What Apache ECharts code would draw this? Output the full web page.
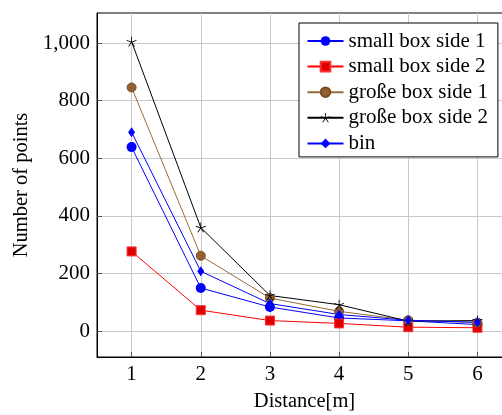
<!DOCTYPE html>
<html><head><meta charset="utf-8">
<script src="https://cdn.jsdelivr.net/npm/echarts@6/dist/echarts.min.js"></script>
<style>html,body{margin:0;padding:0;background:#fff}#c{width:502px;height:415px}</style>
</head><body><div id="c"></div>
<script>
var distances = [1, 2, 3, 4, 5, 6];
var smallBox1 = [639, 150, 84, 46, 36, 23];
var smallBox2 = [277, 73, 37, 27, 14, 12];
var grosseBox1 = [846, 262, 115, 69, 38, 30];
var grosseBox2 = [1005, 360, 124, 92, 35, 37];
var bin = [691, 208, 96, 58, 38, 31];
var yTicks = [0, 200, 400, 600, 800, 1000];
var xTicks = [1, 2, 3, 4, 5, 6];
var seriesNames = ['small box side 1', 'small box side 2', 'große box side 1', 'große box side 2', 'bin'];

function pairs(vals) { return distances.map(function (d, i) { return [d, vals[i]]; }); }

// asterisk symbol (5 arms)
function asteriskPath() {
  var parts = [], w = 8, L = 50;
  for (var k = 0; k < 5; k++) {
    var a = (90 + k * 72) * Math.PI / 180;
    var dx = Math.cos(a), dy = -Math.sin(a), px = -dy, py = dx;
    var cx = 50, cy = 50;
    var p = [
      [cx + px * w / 2, cy + py * w / 2],
      [cx + dx * L + px * w / 2, cy + dy * L + py * w / 2],
      [cx + dx * L - px * w / 2, cy + dy * L - py * w / 2],
      [cx - px * w / 2, cy - py * w / 2]
    ];
    parts.push('M' + p.map(function (q) { return q[0].toFixed(2) + ' ' + q[1].toFixed(2); }).join(' L') + ' Z');
  }
  return 'path://' + parts.join(' ');
}

var font = 'Liberation Serif';
var chart = echarts.init(document.getElementById('c'), null, { renderer: 'canvas' });
chart.setOption({
  animation: false,
  textStyle: { fontFamily: font },
  grid: { left: 97, top: 13, width: 415, height: 344, outerBoundsMode: 'none', containLabel: false,
    show: true, borderColor: '#000', borderWidth: 1, backgroundColor: 'transparent' },
  xAxis: {
    type: 'value', min: 0.5, max: 6.5,
    name: 'Distance[m]', nameLocation: 'middle', nameGap: 34,
    nameTextStyle: { fontFamily: font, fontSize: 20.5, color: '#000' },
    axisLine: { show: true, onZero: false, lineStyle: { color: '#000' } },
    axisTick: { show: true, inside: true, length: 5, customValues: xTicks, lineStyle: { color: '#555' } },
    axisLabel: { customValues: xTicks, fontFamily: font, fontSize: 21, color: '#000', margin: 7 },
    splitLine: { show: true, lineStyle: { color: '#c8c8c8', width: 1 } }
  },
  yAxis: {
    type: 'value', min: -89.5, max: 1104.5,
    name: 'Number of points', nameLocation: 'middle', nameGap: 62,
    nameTextStyle: { fontFamily: font, fontSize: 20.5, color: '#000' },
    axisLine: { show: true, onZero: false, lineStyle: { color: '#000' } },
    axisTick: { show: true, inside: true, length: 5, customValues: yTicks, lineStyle: { color: '#555' } },
    axisLabel: {
      customValues: yTicks, fontFamily: font, fontSize: 21, color: '#000', margin: 7,
      formatter: function (v) { return v.toLocaleString('en-US'); }
    },
    splitLine: { show: true, lineStyle: { color: '#c8c8c8', width: 1 } }
  },
  legend: {
    orient: 'vertical', left: 299, top: 23,
    padding: [7.5, 10, 3, 7.5],
    backgroundColor: '#fff', borderColor: '#000', borderWidth: 1, borderRadius: 0,
    itemWidth: 36, itemHeight: 12, itemGap: 4.6,
    textStyle: { fontFamily: font, fontSize: 21, color: '#000', lineHeight: 21, padding: [0, 0, 0, 0] },
    data: seriesNames
  },
  series: [
    { name: seriesNames[0], type: 'line', data: pairs(smallBox1), symbol: 'circle', symbolSize: 10,
      lineStyle: { color: '#0000ff', width: 1 }, itemStyle: { color: '#0000ff', borderWidth: 0 } },
    { name: seriesNames[1], type: 'line', data: pairs(smallBox2), symbol: 'rect', symbolSize: 9,
      lineStyle: { color: '#ff0000', width: 1 }, itemStyle: { color: '#dd0000', borderColor: '#ff3030', borderWidth: 1 } },
    { name: seriesNames[2], type: 'line', data: pairs(grosseBox1), symbol: 'circle', symbolSize: 9,
      lineStyle: { color: '#9a6a3a', width: 1 }, itemStyle: { color: '#946033', borderColor: '#7a4b22', borderWidth: 1 } },
    { name: seriesNames[3], type: 'line', data: pairs(grosseBox2), symbol: asteriskPath(), symbolSize: 10,
      lineStyle: { color: '#000', width: 1 }, itemStyle: { color: '#000', borderWidth: 0 } },
    { name: seriesNames[4], type: 'line', data: pairs(bin), symbol: 'diamond', symbolSize: [7, 10],
      lineStyle: { color: '#0000ff', width: 1 }, itemStyle: { color: '#0000ff', borderWidth: 0 } }
  ]
});
</script></body></html>
